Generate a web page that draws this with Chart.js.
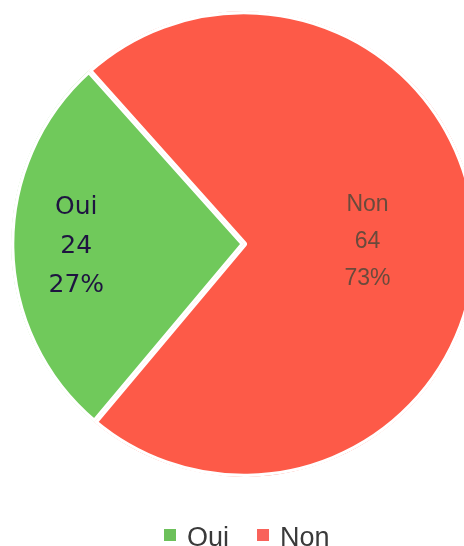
<!DOCTYPE html>
<html>
<head>
<meta charset="utf-8">
<script src="https://cdn.jsdelivr.net/npm/chart.js@4"></script>
<style>
  html, body { margin: 0; padding: 0; background: #fff; overflow: hidden; }
  #wrap { position: relative; width: 488px; height: 546px; }
</style>
</head>
<body>
<div id="wrap"><canvas id="pie"></canvas></div>
<script>
// values
const labels = ['Oui', 'Non'];
const counts = [24, 64];
const percents = ['27%', '73%'];
const colors = ['#70c95b', '#fd5a48'];
const legendColors = ['#6cc05a', '#f9625a'];

// slice labels, drawn at a fraction of the radius
const sliceLabels = {
  id: 'sliceLabels',
  afterDatasetsDraw(chart) {
    const ctx = chart.ctx;
    const meta = chart.getDatasetMeta(0);
    const spots = [
      { frac: 0.72, color: '#1e1440', font: '25px "DejaVu Sans"', gap: 39 },
      { frac: 0.53, color: '#6a4a3c', font: '23px "Liberation Sans"', gap: 37 }
    ];
    meta.data.forEach((arc, i) => {
      const mid = (arc.startAngle + arc.endAngle) / 2;
      const r = arc.outerRadius * spots[i].frac;
      const x = arc.x + Math.cos(mid) * r;
      const y = arc.y + Math.sin(mid) * r;
      ctx.save();
      ctx.fillStyle = spots[i].color;
      ctx.font = spots[i].font;
      ctx.textAlign = 'center';
      ctx.textBaseline = 'middle';
      const lines = [labels[i], String(counts[i]), percents[i]];
      lines.forEach((t, k) => ctx.fillText(t, x, y + (k - 1) * spots[i].gap));
      ctx.restore();
    });
  }
};

// legend at the bottom
const bottomLegend = {
  id: 'bottomLegend',
  afterDraw(chart) {
    const ctx = chart.ctx;
    ctx.save();
    ctx.font = '27px "Liberation Sans"';
    ctx.textBaseline = 'alphabetic';
    let x = 164;
    const y = 546;
    labels.forEach((t, i) => {
      ctx.fillStyle = legendColors[i];
      ctx.fillRect(x, y - 17, 12, 12);
      ctx.fillStyle = '#3a3a3a';
      ctx.fillText(t, x + 23, y);
      x += 23 + ctx.measureText(t).width + 28;
    });
    ctx.restore();
  }
};

new Chart(document.getElementById('pie'), {
  type: 'pie',
  data: {
    labels: labels,
    datasets: [{
      data: counts,
      backgroundColor: colors,
      borderColor: '#ffffff',
      borderWidth: 3,
      borderAlign: 'inner',
      hoverOffset: 0
    }]
  },
  options: {
    responsive: true,
    maintainAspectRatio: false,
    animation: false,
    rotation: 220,
    layout: { padding: { top: 11, bottom: 69, left: 11, right: 11 } },
    plugins: {
      legend: { display: false },
      tooltip: { enabled: false }
    }
  },
  plugins: [sliceLabels, bottomLegend]
});
</script>
</body>
</html>
